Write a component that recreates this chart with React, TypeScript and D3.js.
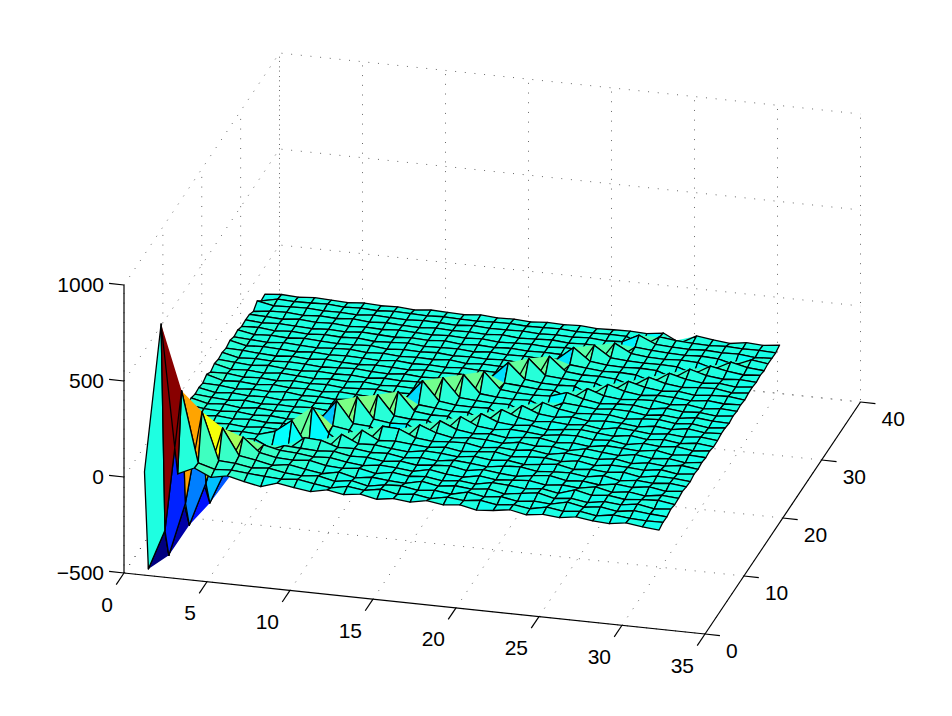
import React from "react";
import * as d3 from "d3";

const WIDTH = 952;
const HEIGHT = 716;

const xTicks = [0, 5, 10, 15, 20, 25, 30, 35];
const yTicks = [0, 10, 20, 30, 40];
const zTicks = [-500, 0, 500, 1000];
const zTickLabels = ["\u2212500", "0", "500", "1000"];
const colorLimits = [-530, 795];

// z values; one row per y = 1..32, x = 1..32
const zRows: number[][] = [
  [6,785,13,53,13,30,9,-8, 20,5,-6,12,-4,8,-10,3, -7,10,-3,6,-12,-5,8,-9, 2,-6,7,-4,-10,3,-8,-16],
  [-530,-320,416,49,25,30,22,15, 10,18,4,-8,9,-3,12,-6, 5,-10,7,-2,9,-6,4,-8, 10,-3,6,-9,5,-4,-7,-6],
  [20,-480,-199,286,40,35,20,28, 12,6,15,-5,8,-11,4,9, -6,3,-8,12,-4,7,-9,2, -5,15,-3,8,-7,6,-2,-8],
  [10,15,-344,-116,180,45,30,12, 25,10,-4,14,-7,5,-3,-9, 11,-5,6,-2,8,-10,3,14, -6,4,-9,5,-3,10,-6,2],
  [12,8,20,-250,-60,111,40,22, 18,26,8,3,12,-6,9,-2, 5,-8,3,-7,10,5,-4,6, -9,18,-2,7,-5,3,8,-5],
  [5,18,6,15,-130,-40,49,30, 25,14,20,5,-4,8,3,-7, 12,-3,-10,6,-5,2,9,-6, 4,-3,12,-7,4,-8,5,-2],
  [14,4,12,10,8,-70,-10,25, 20,15,22,6,9,-3,7,-5, 4,10,-6,8,-2,-9,5,14, -4,3,-8,6,-3,9,-5,4],
  [8,15,3,12,6,10,-30,-25, 45,40,12,15,4,8,-6,5, -3,9,2,-7,6,11,-4,3, 7,-5,10,-8,4,-2,6,-3],
  [16,6,13,4,10,5,30,95, -40,-40,50,10,14,3,-5,9, 6,-4,8,-2,5,-8,3,12, -6,4,-3,7,-9,5,2,-6],
  [9,14,5,11,3,12,8,-70, 145,15,-45,50,6,12,4,-3, 8,-6,3,10,-5,2,7,-4, 9,-7,5,2,-4,8,-6,3],
  [18,4,15,7,13,6,10,5, -110,25,12,-45,50,45,8,-2, 5,9,-7,4,-3,8,-6,10, 3,-5,7,-8,4,-3,9,-2],
  [25,12,8,14,5,11,4,9, 20,125,15,10,-40,-40,45,12, -4,6,3,-6,9,-2,5,-7, 11,2,-6,8,-3,5,-8,4],
  [28,8,14,4,12,6,10,3, 8,-100,125,18,6,10,-40,45, 8,-3,5,-7,4,10,-5,3, -8,6,2,-4,9,-6,3,-2],
  [18,10,5,13,3,9,6,11, 4,10,-95,115,14,5,8,-40, 45,6,-4,7,2,-6,5,9, -3,4,-9,6,-2,8,-5,3],
  [22,5,12,6,10,2,13,4, 9,3,12,-85,110,16,6,8, -40,40,5,-3,6,-8,3,11, 2,-5,7,-4,5,-7,4,-6],
  [15,12,3,10,7,14,4,8, 2,11,5,8,-80,20,12,4, 7,-35,40,8,-4,5,-2,6, -7,9,3,-6,4,-3,6,-4],
  [30,6,11,4,13,5,9,3, 12,6,2,9,15,115,18,6, 5,8,-35,40,6,-3,8,-5, 4,2,-7,5,-4,10,-2,3],
  [12,14,4,9,3,11,6,10, 2,7,12,4,8,-85,110,15, 8,4,6,-35,35,10,-4,3, 7,-6,4,9,-3,5,-7,2],
  [26,5,10,3,12,7,2,9, 5,12,3,8,6,10,-80,105, 14,6,3,7,-30,12,5,-3, 6,4,-8,3,-5,7,-2,-4],
  [18,11,4,13,6,3,10,5, 8,2,10,5,9,4,12,-80, 100,14,7,4,8,35,10,-4, 3,6,-5,8,-2,4,-6,3],
  [24,4,9,5,11,8,2,7, 12,5,3,11,4,8,5,10, -75,18,12,5,6,-30,35,6, -3,5,8,-4,6,-7,3,-2],
  [16,13,6,2,9,4,12,5, 3,9,6,2,10,5,8,3, 12,95,16,6,4,8,-30,35, 8,-4,6,3,-5,5,-3,2],
  [26,6,12,8,3,10,5,9, 6,2,11,4,7,3,10,6, 4,-70,95,15,8,5,3,-30, 30,8,-3,5,-6,3,6,-4],
  [14,9,3,11,6,2,8,12, 4,10,3,7,5,12,2,8, 5,10,-70,85,14,6,8,3, -25,30,6,-4,4,8,-5,2],
  [20,4,10,5,12,7,3,6, 11,2,8,5,10,3,7,4, 9,3,6,-65,20,12,4,7, 3,-25,30,8,-3,5,-6,3],
  [8,12,3,9,4,11,6,10, 2,7,12,4,6,9,3,10, 5,7,4,9,80,16,6,3, 8,5,-25,30,6,-4,3,-2],
  [12,5,10,6,2,8,4,11, 7,3,9,5,11,2,8,4, 9,3,6,4,-60,70,14,7, 4,6,3,-25,25,8,-3,4],
  [10,8,3,12,5,9,2,7, 4,10,6,3,8,5,10,2, 6,8,3,9,5,-55,60,15, 6,3,8,4,-20,25,5,-2],
  [-5,6,9,2,8,4,11,3, 9,5,2,8,4,7,3,9, 2,5,10,3,7,4,-45,18, 10,5,3,7,2,-20,15,4],
  [20,3,7,10,4,6,2,9, 5,3,8,6,2,9,4,5, 8,3,6,4,9,2,7,50, 12,6,3,8,4,6,-3,2],
  [-10,8,4,6,9,3,7,2, 8,5,3,7,4,2,6,8, 3,5,7,2,4,6,5,-35, 20,10,5,2,7,3,4,1],
  [-5,2,-3,4,0,-4,3,-2, 1,-6,3,0,-3,5,-2,1, -4,2,-1,3,-3,0,2,-2, 10,-33,13,2,-8,6,0,11],
];

const jetStops = [0, 0.125, 0.375, 0.625, 0.875, 1];
const jetColors = ["#000080", "#0000ff", "#00ffff", "#ffff00", "#ff0000", "#800000"];

// Axonometric projection: screen contribution of each data axis
const xToRight = d3.scaleLinear().domain([0, 35]).range([124, 705]);
const xToDown = d3.scaleLinear().domain([0, 35]).range([0, 61]);
const yToRight = d3.scaleLinear().domain([0, 40]).range([0, 155.5]);
const yToUp = d3.scaleLinear().domain([0, 40]).range([0, 232]);
const zToUp = d3.scaleLinear().domain([-500, 1000]).range([0, 288]);
const BASE_Y = 573;

type P2 = [number, number];

function project(x: number, y: number, z: number): P2 {
  return [xToRight(x) + yToRight(y), BASE_Y + xToDown(x) - yToUp(y) - zToUp(z)];
}

// distance from the viewer, from the same axis scales
function depth(x: number, y: number, z: number): number {
  return yToUp(y) / 0.4 - xToDown(x) / 0.4 - zToUp(z) * 0.436;
}

const jet = d3.scaleLinear<string>().domain(jetStops).range(jetColors).clamp(true);
const colorPos = d3.scaleLinear().domain(colorLimits).range([0, 1]);
const closedLine = d3.line().curve(d3.curveLinearClosed);
const openLine = d3.line();

// one triangle with a fixed winding, so that two of them in one path never cancel
function triangle(a: P2, b: P2, c: P2): string {
  const area = d3.polygonArea([a, b, c]);
  return closedLine(area >= 0 ? [a, b, c] : [a, c, b]) as string;
}

type Quad = { key: string; fillPath: string; edgePath: string; fill: string; depth: number };

function buildQuads(): Quad[] {
  const quads: Quad[] = [];
  for (let j = 0; j < zRows.length - 1; j++) {
    for (let i = 0; i < zRows[j].length - 1; i++) {
      const corners: [number, number, number][] = [
        [i + 1, j + 1, zRows[j][i]],
        [i + 2, j + 1, zRows[j][i + 1]],
        [i + 2, j + 2, zRows[j + 1][i + 1]],
        [i + 1, j + 2, zRows[j + 1][i]],
      ];
      const pts = corners.map((c) => project(c[0], c[1], c[2]));
      quads.push({
        key: `${i}-${j}`,
        fillPath: triangle(pts[0], pts[1], pts[2]) + triangle(pts[0], pts[2], pts[3]),
        edgePath: closedLine(pts) as string,
        fill: jet(colorPos(zRows[j][i])),
        depth: d3.mean(corners, (c) => depth(c[0], c[1], c[2])) as number,
      });
    }
  }
  return quads.sort((a, b) => d3.descending(a.depth, b.depth));
}

const ZMIN = zTicks[0];
const ZMAX = zTicks[zTicks.length - 1];
const XMAX = xTicks[xTicks.length - 1];
const YMAX = yTicks[yTicks.length - 1];

function buildGrid(): string[] {
  const seg: [number, number, number][][] = [];
  xTicks.forEach((x) => {
    seg.push([[x, 0, ZMIN], [x, YMAX, ZMIN], [x, YMAX, ZMAX]]);
  });
  yTicks.forEach((y) => {
    seg.push([[XMAX, y, ZMIN], [0, y, ZMIN], [0, y, ZMAX]]);
  });
  zTicks.forEach((z) => {
    seg.push([[0, 0, z], [0, YMAX, z], [XMAX, YMAX, z]]);
  });
  return seg.map((s) => openLine(s.map((p) => project(p[0], p[1], p[2]))) as string);
}

const textStyle: React.CSSProperties = {
  fontFamily: '"Liberation Sans", Arial, sans-serif',
  fontSize: 21,
  fill: "#000",
};

export default function App() {
  const quads = buildQuads();
  const grid = buildGrid();
  const line3 = (a: [number, number, number], b: [number, number, number]) =>
    openLine([project(a[0], a[1], a[2]), project(b[0], b[1], b[2])]) as string;
  return (
    <svg
      width={WIDTH}
      height={HEIGHT}
      viewBox={`0 0 ${WIDTH} ${HEIGHT}`}
      style={{ position: "absolute", left: 0, top: 0, background: "#fff" }}
    >
      <g fill="none" stroke="#000" strokeWidth={0.6} strokeDasharray="1 8.7">
        {grid.map((d, i) => (
          <path key={i} d={d} />
        ))}
      </g>
      <g stroke="#000" strokeWidth={1.2} fill="none">
        <path d={line3([0, 0, ZMIN], [0, 0, ZMAX])} />
        <path d={line3([0, 0, ZMIN], [XMAX, 0, ZMIN])} />
        <path d={line3([XMAX, 0, ZMIN], [XMAX, YMAX, ZMIN])} />
        {zTicks.map((z) => (
          <path key={`z${z}`} d={line3([0, 0, z], [-0.9, 0, z])} />
        ))}
        {xTicks.map((x) => (
          <path key={`x${x}`} d={line3([x, 0, ZMIN], [x, -2, ZMIN])} />
        ))}
        {yTicks.map((y) => (
          <path key={`y${y}`} d={line3([XMAX, y, ZMIN], [XMAX + 0.9, y, ZMIN])} />
        ))}
      </g>
      <g>
        {quads.map((q) => (
          <g key={q.key}>
            <path d={q.fillPath} fill={q.fill} stroke="none" />
            <path d={q.edgePath} fill="none" stroke="#000" strokeWidth={1.3} strokeLinejoin="round" />
          </g>
        ))}
      </g>
      <g style={textStyle}>
        {zTicks.map((z, i) => {
          const [px, py] = project(0, 0, z);
          return (
            <text key={z} x={px - 20} y={py - 1} textAnchor="end" dominantBaseline="central">
              {zTickLabels[i]}
            </text>
          );
        })}
        {xTicks.map((x) => {
          const [px, py] = project(x, 0, ZMIN);
          return (
            <text key={x} x={px - 11} y={py + 31} textAnchor="end" dominantBaseline="central">
              {x}
            </text>
          );
        })}
        {yTicks.map((y) => {
          const [px, py] = project(XMAX, y, ZMIN);
          return (
            <text key={y} x={px + 21} y={py + 16} textAnchor="start" dominantBaseline="central">
              {y}
            </text>
          );
        })}
      </g>
    </svg>
  );
}
